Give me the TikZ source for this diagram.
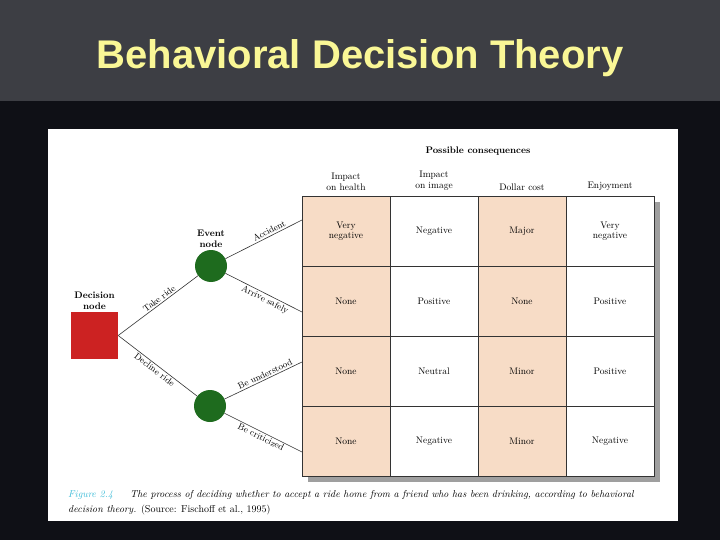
\documentclass[tikz,border=0pt]{standalone}
\usepackage{fontspec}
\newfontfamily\titlefont{Liberation Sans}
\usepackage{tikz}
\usetikzlibrary{positioning}
\usepackage{xcolor}
\definecolor{slidebg}{HTML}{0F1016}
\definecolor{titlebar}{HTML}{3D3E44}
\definecolor{titleyellow}{HTML}{FAF796}
\definecolor{peach}{HTML}{F7DCC6}
\definecolor{decred}{HTML}{CC2222}
\definecolor{evgreen}{HTML}{1E6B1E}
\definecolor{figcyan}{HTML}{3CBCD8}
\definecolor{gridline}{HTML}{333333}

\begin{document}
\begin{tikzpicture}[x=1pt,y=-1pt,node distance=2pt,
        cell/.style={rectangle,draw=gridline,line width=0.8pt,minimum width=88pt,minimum height=70pt,inner sep=0pt,align=center,font=\fontsize{9.5}{10.5}\selectfont},
        peachcell/.style={cell,fill=peach},
        whitecell/.style={cell,fill=white},
        head/.style={align=center,inner sep=0pt,font=\fontsize{9.5}{11}\selectfont},
        decision node/.style={rectangle,fill=decred,minimum size=47pt,inner sep=0pt},
        event node/.style={circle,fill=evgreen,minimum size=32pt,inner sep=0pt},
        nodelabel/.style={align=center,inner sep=0pt,font=\fontsize{9.5}{11}\bfseries\selectfont},
        branch/.style={draw=gridline,line width=0.6pt},
        blabel/.style={sloped,inner sep=1.5pt,font=\fontsize{9}{10}\selectfont}]

    \useasboundingbox (0,0) rectangle (720,540);
    \fill[slidebg] (0,0) rectangle (720,540);
    \fill[titlebar] (0,0) rectangle (720,101);
    \fill[white] (48,129) rectangle (678,521);

    \node[text=titleyellow,font=\titlefont\fontsize{40}{44}\bfseries\selectfont] (title) at (360,58) {Behavioral Decision Theory};

    % shadow of the table
    \fill[gray!75] (308,202) rectangle (660,482);

    % table
    \node[peachcell] (c11) at (346,231) {Very\\negative};
    \node[whitecell] (c12) at (434,231) {Negative};
    \node[peachcell] (c13) at (522,231) {Major};
    \node[whitecell] (c14) at (610,231) {Very\\negative};

    \node[peachcell] (c21) at (346,301) {None};
    \node[whitecell] (c22) at (434,301) {Positive};
    \node[peachcell] (c23) at (522,301) {None};
    \node[whitecell] (c24) at (610,301) {Positive};

    \node[peachcell] (c31) at (346,371) {None};
    \node[whitecell] (c32) at (434,371) {Neutral};
    \node[peachcell] (c33) at (522,371) {Minor};
    \node[whitecell] (c34) at (610,371) {Positive};

    \node[peachcell] (c41) at (346,441) {None};
    \node[whitecell] (c42) at (434,441) {Negative};
    \node[peachcell] (c43) at (522,441) {Minor};
    \node[whitecell] (c44) at (610,441) {Negative};

    \node[head,above=5pt of c11] (h1) {Impact\\on health};
    \node[head,above=5pt of c12] (h2) {Impact\\on image};
    \node[head,above=5pt of c13] (h3) {Dollar cost};
    \node[head,above=5pt of c14] (h4) {Enjoyment};
    \node[head,font=\fontsize{9.5}{11}\bfseries\selectfont] (poss) at (478,151) {Possible consequences};

    % tree
    \node[decision node] (d) at (94.5,335.5) {};
    \node[event node] (e1) at (211,266) {};
    \node[event node] (e2) at (210,406) {};
    \node[nodelabel,above=of d] (dl) {Decision\\node};
    \node[nodelabel,above=of e1] (e1l) {Event\\node};

    \coordinate (a1) at (302,220);
    \coordinate (a2) at (302,312);
    \coordinate (a3) at (302,362);
    \coordinate (a4) at (302,452);

    \path[branch]
    (d.east) edge node[blabel,above,pos=0.55] {Take ride} (e1)
    (d.east) edge node[blabel,below,pos=0.5] {Decline ride} (e2)
    (e1) edge node[blabel,above,pos=0.6] {Accident} (a1)
    (e1) edge node[blabel,below,pos=0.55] {Arrive safely} (a2)
    (e2) edge node[blabel,above,pos=0.55] {Be understood} (a3)
    (e2) edge node[blabel,below,pos=0.5] {Be criticized} (a4);

    % caption
    \node[anchor=base west,inner sep=0pt,font=\fontsize{10}{12}\itshape\selectfont,text=figcyan] (fig) at (68,497) {Figure 2.4};
    \node[anchor=base west,inner sep=0pt,align=left,font=\fontsize{10}{15}\itshape\selectfont] (cap) at (130,497)
        {The process of deciding whether to accept a ride home from a friend who has been drinking, according to behavioral};
    \node[anchor=base west,inner sep=0pt,font=\fontsize{10}{12}\selectfont] (cap2) at (68,512)
        {\itshape decision theory. \upshape(Source: Fischoff et al., 1995)};

\end{tikzpicture}
\end{document}
